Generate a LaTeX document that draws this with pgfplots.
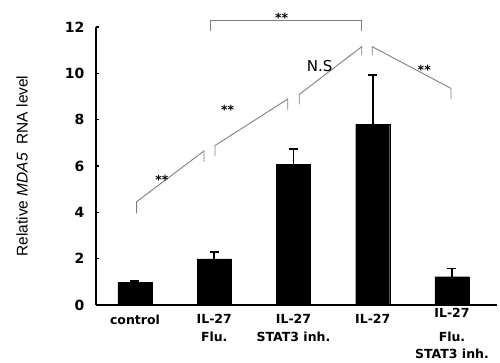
\documentclass[border=0pt]{standalone}
\usepackage{pgfplots}
\pgfplotsset{compat=1.18}
\usepackage{fontspec}
\setmainfont{DejaVu Sans}
\newfontfamily\libfont{Liberation Sans}
\newfontfamily\djfont{DejaVu Sans}
\begin{document}
\begin{tikzpicture}
\begin{axis}[
  name=ax,
  scale only axis,
  width=401pt, height=278pt,
  xmin=-0.492, xmax=4.568,
  ymin=0, ymax=12,
  clip=false,
  axis x line*=bottom, axis y line*=left,
  axis line style={line width=1.8pt, -},
  ytick={0,2,...,12},
  xtick={0,1,2,3},
  xticklabels={control,{IL-27\\Flu.},{IL-27\\STAT3 inh.},IL-27},
  extra x ticks={4},
  extra x tick labels={{IL-27\\[6pt]Flu.\\[-1pt]STAT3 inh.}},
  extra x tick style={xticklabel style={yshift=6pt}},
  xtick style={draw=none},
  ytick style={line width=1.2pt, black},
  major tick length=3pt,
  tick align=inside,
  yticklabel style={font=\djfont\bfseries\fontsize{14}{16}\selectfont, xshift=-8pt},
  xticklabel style={font=\djfont\bfseries\fontsize{12.5}{18}\selectfont, align=center, yshift=-6pt},
  /pgf/number format/assume math mode=true,
  ylabel={Relative \textit{MDA5}\ \ RNA level},
  ylabel style={font=\libfont\fontsize{15.5}{17}\selectfont, at={(axis description cs:-0.1845,0.5)}, anchor=center},
]
\addplot[ybar, bar width=34pt, fill=black, draw=black,
  error bars/.cd, y dir=plus, y explicit,
  error bar style={line width=1.7pt, black},
  error mark options={rotate=90, mark size=4.5pt, line width=1.7pt, black}]
  coordinates {
  (0,0.97) +- (0,0.07)
  (1,1.99) +- (0,0.31)
  (2,6.07) +- (0,0.65)
  (3,7.80) +- (0,2.13)
  (4,1.22) +- (0,0.35)
};
% significance brackets
\addplot[gray, line width=0.9pt] coordinates {(0.021,3.96) (0.021,4.46) (0.871,6.65) (0.871,6.18)};
\addplot[gray, line width=0.9pt] coordinates {(1.009,6.43) (1.009,6.88) (1.927,8.89) (1.927,8.42)};
\addplot[gray, line width=0.9pt] coordinates {(2.073,8.66) (2.073,9.09) (2.861,11.15) (2.861,10.79)};
\addplot[gray, line width=0.9pt] coordinates {(2.994,10.79) (2.994,11.15) (3.987,9.35) (3.987,8.88)};
\addplot[gray, line width=0.9pt] coordinates {(0.946,11.84) (0.946,12.30) (2.861,12.30) (2.861,11.84)};
\node[font=\djfont\bfseries\fontsize{12.5}{13}\selectfont] at (axis cs:0.34,5.42) {**};
\node[font=\djfont\bfseries\fontsize{12.5}{13}\selectfont] at (axis cs:1.17,8.44) {**};
\node[font=\djfont\fontsize{15}{16}\selectfont] at (axis cs:2.33,10.31) {N.S};
\node[font=\djfont\bfseries\fontsize{12.5}{13}\selectfont] at (axis cs:3.65,10.16) {**};
\node[font=\djfont\bfseries\fontsize{12.5}{13}\selectfont] at (axis cs:1.85,12.41) {**};
\end{axis}
\path ([xshift=-96pt,yshift=-57pt]ax.south west) rectangle ([xshift=3pt,yshift=27pt]ax.north east);
\end{tikzpicture}
\end{document}
